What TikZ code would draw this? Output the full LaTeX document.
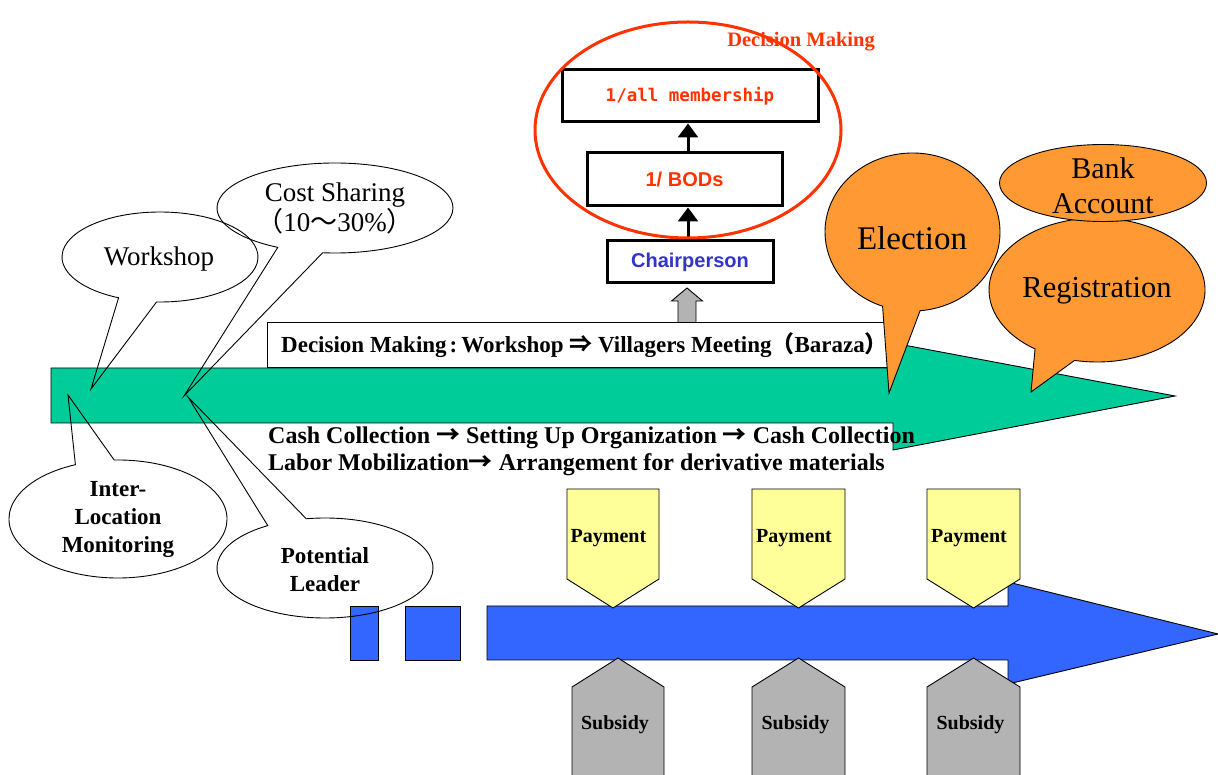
\documentclass[tikz,border=0pt]{standalone}
\usepackage{fontspec}
\setmainfont{Liberation Serif}
\newfontfamily\cjk{Noto Sans CJK JP}
\newfontfamily\lsans{Liberation Sans}
\newfontfamily\dmono{DejaVu Sans Mono}
\usetikzlibrary{arrows.meta}
\definecolor{greenA}{HTML}{00CC99}
\definecolor{blueA}{HTML}{3366FF}
\definecolor{yellowA}{HTML}{FFFF99}
\definecolor{greyA}{HTML}{B3B3B3}
\definecolor{orangeA}{HTML}{FF9933}
\definecolor{redA}{HTML}{FF3300}
\definecolor{chairblue}{HTML}{3333CC}
\tikzset{
  bubble/.style={draw=black, line width=0.9pt},
  obubble/.style={draw=black, fill=orangeA, line width=0.9pt},
  orgbox/.style={draw=black, fill=white, line width=3pt, inner sep=0pt},
  orgarrow/.style={line width=3pt, -{Triangle[width=20pt,length=14pt]}},
  shapeline/.style={draw=black, line width=0.9pt},
  bigbold/.style={font=\bfseries\fontsize{23}{28}\selectfont},
  cashbold/.style={font=\bfseries\fontsize{24}{28}\selectfont},
  tagtext/.style={font=\bfseries\fontsize{20}{24}\selectfont},
  bubtext/.style={font=\fontsize{27}{30}\selectfont, align=center},
}
% [style] cx cy rx ry angleA angleB tipx tipy
\newcommand\bubblepath[9][bubble]{%
  \draw[#1] ([shift={(#2,#3)}]#6:#4 and #5) -- (#8,#9) -- ([shift={(#2,#3)}]#7:#4 and #5)
    arc[start angle=#7, end angle=#6+360, x radius=#4, y radius=#5] -- cycle;}
\newcommand\rarr{{\cjk\bfseries →}}
\begin{document}
\begin{tikzpicture}[x=1pt,y=1pt]
\useasboundingbox (0,0) rectangle (1218,774);

% decision making box
\node[draw=black, line width=1.2pt, fill=white, anchor=north west, minimum width=638pt, minimum height=45pt, inner sep=0pt] (dmbox) at (267,452) {};
\node[bigbold, anchor=base west, inner sep=0pt] (dmtext) at (281,421.5)
  {Decision Making\hspace{3pt}:\hspace{4pt}Workshop {\cjk ⇒} Villagers Meeting{\cjk （}Baraza{\cjk ）}};

% green arrow
\draw[shapeline, fill=greenA] (51,406) -- (893,406) -- (893,431) -- (1175,378) -- (893,324) -- (893,351) -- (51,351) -- cycle;

\node[cashbold, anchor=base west, inner sep=0pt] (cash) at (268,330.5)
  {Cash Collection \rarr\ Setting Up Organization \rarr\ Cash Collection};
\node[cashbold, anchor=base west, inner sep=0pt] (labor) at (268,303.5)
  {Labor Mobilization\rarr\ Arrangement for derivative materials};

% grey up arrow
\draw[shapeline, fill=greyA] (678,452) -- (678,473) -- (671.5,473) -- (687,486) -- (702.5,473) -- (696,473) -- (696,452);

% organisation boxes
\node[orgbox, minimum width=256pt, minimum height=52pt] (mem) at (690,678)
  {\dmono\bfseries\fontsize{17.5}{20}\selectfont\color{redA}1/all membership};
\node[orgbox, minimum width=195pt, minimum height=53pt] (bod) at (684.5,594.5)
  {\lsans\bfseries\fontsize{20}{24}\selectfont\color{redA}1/ BODs};
\node[orgbox, minimum width=166pt, minimum height=42pt] (chair) at (690,512)
  {\lsans\bfseries\fontsize{20}{24}\selectfont\color{chairblue}Chairperson};
\draw[orgarrow] (chair.north -| 688,0) -- (bod.south -| 688,0);
\draw[orgarrow] (bod.north -| 688,0) -- (mem.south -| 688,0);

\node[font=\bfseries\fontsize{20.5}{24}\selectfont, text=redA] (dmred) at (801,732) {Decision Making};
\draw[draw=redA, line width=3pt] (688,644) ellipse [x radius=153, y radius=108];

% blue arrow
\draw[shapeline, fill=blueA] (350,114) rectangle (378,168);
\draw[shapeline, fill=blueA] (405,114) rectangle (460,168);
\draw[shapeline, fill=blueA] (487,168) -- (1008,168) -- (1008,192) -- (1218,140) -- (1008,90) -- (1008,114) -- (487,114) -- cycle;

\foreach \a/\b/\n in {567/659/p1, 752/845/p2, 927/1020/p3}{
  \pgfmathsetmacro\m{(\a+\b)/2}
  \draw[shapeline, fill=yellowA] (\a,285) -- (\b,285) -- (\b,195) -- (\m,166) -- (\a,195) -- cycle;
  \node[tagtext] (\n) at (\m-4.5,236) {Payment};
}
\foreach \a/\b/\n in {572/664/s1, 752/845/s2, 927/1020/s3}{
  \pgfmathsetmacro\m{(\a+\b)/2}
  \draw[shapeline, fill=greyA] (\a,-5) -- (\a,87) -- (\m,116) -- (\b,87) -- (\b,-5);
  \node[tagtext] (\n) at (\m-3,49) {Subsidy};
}

% white speech bubbles (outline only)
\bubblepath{335}{566}{118}{45}{241}{264}{184}{378}
\node[bubtext] (cost) at (335,566) {Cost Sharing\\{\cjk （}10{\cjk ～}30\%{\cjk ）}};
\bubblepath{160}{517}{98}{45}{245}{268}{91}{385}
\node[bubtext] (work) at (159,515) {Workshop};
\bubblepath{118}{255}{109}{59}{92}{113}{68}{379}
\node[bigbold, align=center] (inter) at (118,254) {Inter-\\Location\\Monitoring};
\bubblepath{325}{206}{108}{50}{100}{122}{188}{377}
\node[bigbold, align=center] (pot) at (325,204) {Potential\\Leader};

% orange bubbles
\bubblepath[obubble]{1097}{484}{108}{72}{235}{258}{1031}{382}
\node[font=\fontsize{30.5}{34}\selectfont] (reg) at (1097,483) {Registration};
\bubblepath[obubble]{912.5}{542}{87.5}{79}{250}{275}{889}{381}
\node[font=\fontsize{33}{36}\selectfont] (elec) at (912,536) {Election};
\draw[obubble] (1103,591) ellipse [x radius=103.5, y radius=38.5];
\node[font=\fontsize{30}{35}\selectfont, align=center] (bank) at (1103,588.5) {Bank\\Account};
\end{tikzpicture}
\end{document}
